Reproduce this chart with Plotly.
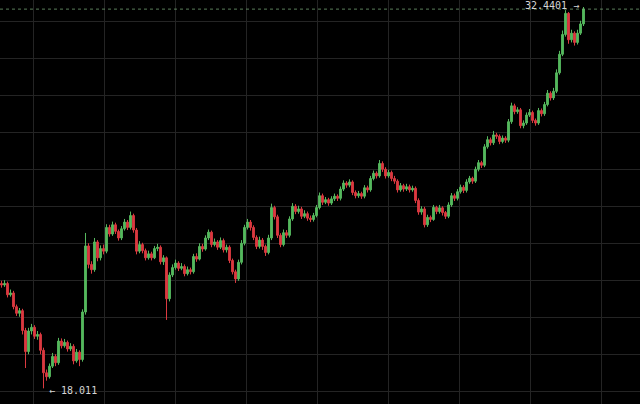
import plotly.graph_objects as go

first_open = 21.98
closes = [
    21.92, 21.98, 21.55, 21.62, 21.10, 20.85, 20.95, 20.20, 19.40, 20.18,
    20.32, 19.98, 20.05, 19.45, 18.60, 18.45, 18.85, 19.22, 18.98, 19.80,
    19.62, 19.75, 19.50, 19.60, 19.05, 19.38, 19.10, 20.90, 23.40, 22.70,
    22.50, 23.55, 22.95, 23.30, 23.20, 24.10, 23.85, 24.20, 23.95, 23.70,
    24.05, 24.30, 24.10, 24.55, 24.00, 23.20, 23.45, 23.22, 22.95, 23.10,
    22.95, 23.30, 23.35, 22.80, 22.95, 21.40, 22.30, 22.58, 22.75, 22.55,
    22.62, 22.35, 22.50, 22.42, 23.00, 22.90, 23.38, 23.28, 23.70, 23.92,
    23.45, 23.55, 23.35, 23.60, 23.25, 23.35, 22.85, 22.42, 22.15, 22.78,
    23.50, 24.10, 24.30, 24.10, 23.72, 23.38, 23.62, 23.38, 23.15, 23.70,
    24.85, 24.50, 23.80, 23.45, 23.90, 23.80, 24.42, 24.90, 24.70, 24.80,
    24.52, 24.62, 24.45, 24.40, 24.55, 24.85, 25.30, 25.05, 25.15, 25.02,
    25.18, 25.28, 25.20, 25.55, 25.78, 25.70, 25.82, 25.42, 25.30, 25.38,
    25.28, 25.60, 25.52, 25.95, 26.15, 26.05, 26.52, 26.30, 26.05, 26.18,
    25.95, 25.85, 25.52, 25.68, 25.55, 25.64, 25.52, 25.58, 25.12, 24.68,
    24.80, 24.20, 24.48, 24.40, 24.86, 24.70, 24.84, 24.66, 24.52, 24.95,
    25.30, 25.20, 25.45, 25.62, 25.50, 25.82, 25.96, 25.85, 26.30, 26.55,
    26.45, 27.15, 27.42, 27.30, 27.60, 27.55, 27.35, 27.48, 27.40, 28.10,
    28.70, 28.48, 28.55, 27.95, 28.05, 28.35, 28.45, 28.15, 28.05, 28.52,
    28.40, 28.75, 29.18, 29.00, 29.25, 29.95, 30.65, 31.40, 32.20, 31.20,
    31.45, 31.10, 31.45, 31.80, 32.36,
]
highs = [
    22.08, 22.10, 22.05, 21.75, 21.70, 21.18, 21.05, 21.02, 20.30, 20.30,
    20.45, 20.40, 20.18, 20.12, 19.55, 18.72, 18.95, 19.35, 19.30, 19.92,
    19.90, 19.88, 19.82, 19.72, 19.68, 19.50, 19.45, 21.00, 23.89, 23.50,
    22.82, 23.70, 23.62, 23.42, 23.45, 24.22, 24.20, 24.32, 24.28, 24.02,
    24.15, 24.42, 24.38, 24.70, 24.62, 24.08, 23.58, 23.52, 23.30, 23.22,
    23.18, 23.40, 23.48, 23.42, 23.05, 23.00, 22.40, 22.70, 22.88, 22.82,
    22.75, 22.70, 22.62, 22.58, 23.10, 23.12, 23.50, 23.48, 23.80, 24.02,
    23.98, 23.68, 23.62, 23.72, 23.68, 23.45, 23.42, 22.92, 22.50, 22.88,
    23.62, 24.20, 24.42, 24.38, 24.18, 23.80, 23.75, 23.70, 23.45, 23.82,
    25.00, 24.92, 24.58, 23.88, 24.02, 24.00, 24.52, 25.02, 24.98, 24.92,
    24.88, 24.75, 24.70, 24.55, 24.65, 24.95, 25.42, 25.38, 25.25, 25.22,
    25.28, 25.38, 25.35, 25.65, 25.88, 25.85, 25.92, 25.88, 25.50, 25.48,
    25.45, 25.70, 25.68, 26.05, 26.25, 26.22, 26.65, 26.60, 26.38, 26.28,
    26.25, 26.05, 25.92, 25.78, 25.75, 25.75, 25.72, 25.68, 25.65, 25.20,
    24.90, 24.88, 24.58, 24.55, 24.95, 24.92, 24.95, 24.90, 24.72, 25.05,
    25.40, 25.38, 25.55, 25.72, 25.70, 25.92, 26.05, 26.02, 26.40, 26.65,
    26.62, 27.25, 27.55, 27.50, 27.75, 27.68, 27.62, 27.58, 27.55, 28.20,
    28.82, 28.78, 28.65, 28.62, 28.15, 28.45, 28.58, 28.52, 28.22, 28.62,
    28.60, 28.85, 29.30, 29.25, 29.38, 30.08, 30.78, 31.55, 32.32, 32.25,
    31.58, 31.52, 31.58, 31.92, 32.4401,
]
lows = [
    21.82, 21.85, 21.45, 21.48, 21.00, 20.75, 20.72, 20.05, 18.78, 19.30,
    20.05, 19.88, 19.85, 19.30, 18.011, 18.30, 18.38, 18.78, 18.85, 18.90,
    19.52, 19.55, 19.40, 19.42, 18.92, 18.98, 18.85, 19.02, 20.80, 22.55,
    22.35, 22.42, 22.82, 22.85, 23.08, 23.12, 23.75, 23.78, 23.85, 23.60,
    23.62, 23.98, 24.00, 24.02, 23.90, 23.08, 23.12, 23.12, 22.85, 22.88,
    22.85, 22.90, 23.20, 22.70, 22.68, 20.60, 21.30, 22.22, 22.50, 22.45,
    22.48, 22.25, 22.28, 22.32, 22.35, 22.80, 22.85, 23.18, 23.22, 23.62,
    23.35, 23.38, 23.25, 23.28, 23.15, 23.15, 22.75, 22.32, 22.00, 22.08,
    22.70, 23.42, 24.02, 23.98, 23.62, 23.28, 23.30, 23.25, 23.02, 23.08,
    23.62, 24.40, 23.70, 23.35, 23.38, 23.70, 23.72, 24.35, 24.60, 24.62,
    24.42, 24.45, 24.35, 24.30, 24.32, 24.48, 24.78, 24.95, 24.98, 24.92,
    24.95, 25.10, 25.10, 25.12, 25.48, 25.60, 25.62, 25.32, 25.20, 25.22,
    25.18, 25.20, 25.42, 25.45, 25.88, 25.95, 25.98, 26.20, 25.95, 25.98,
    25.85, 25.75, 25.42, 25.45, 25.45, 25.48, 25.42, 25.45, 25.02, 24.58,
    24.58, 24.10, 24.12, 24.30, 24.35, 24.60, 24.62, 24.55, 24.42, 24.45,
    24.88, 25.10, 25.12, 25.38, 25.40, 25.42, 25.75, 25.75, 25.78, 26.22,
    26.35, 26.38, 27.08, 27.20, 27.22, 27.45, 27.25, 27.28, 27.30, 27.32,
    28.02, 28.38, 28.40, 27.85, 27.85, 27.98, 28.28, 28.05, 27.95, 27.98,
    28.30, 28.32, 28.68, 28.90, 28.92, 29.18, 29.88, 30.58, 31.32, 31.05,
    31.10, 30.98, 31.02, 31.38, 31.72,
]

opens = [first_open] + closes[:-1]
idx = list(range(len(closes)))

hi_i = max(idx, key=lambda i: highs[i])
lo_i = min(idx, key=lambda i: lows[i])

fig = go.Figure()
fig.add_trace(go.Candlestick(
    x=idx, open=opens, high=highs, low=lows, close=closes,
    increasing=dict(line=dict(color="#56b95e", width=1), fillcolor="#56b95e"),
    decreasing=dict(line=dict(color="#dc3a40", width=1), fillcolor="#dc3a40"),
    whiskerwidth=0,
    showlegend=False,
    hoverinfo="skip",
))

fig.add_shape(type="line", xref="paper", x0=0, x1=1, yref="y",
              y0=closes[-1], y1=closes[-1],
              line=dict(color="rgba(120,170,120,0.75)", width=1, dash="3px,3px"))

mono = dict(family="DejaVu Sans Mono", size=10, color="#d6d6d6")
fig.add_annotation(x=hi_i, y=highs[hi_i], text=f"{highs[hi_i]:.4f} →",
                   showarrow=False, xanchor="right", yanchor="middle",
                   xshift=-3, yshift=2, font=mono)
fig.add_annotation(x=lo_i, y=lows[lo_i], text=f"← {lows[lo_i]:.3f}",
                   showarrow=False, xanchor="left", yanchor="middle",
                   xshift=3, yshift=-2, font=mono)

fig.update_layout(
    width=640, height=404,
    margin=dict(l=0, r=0, t=0, b=0),
    paper_bgcolor="#000000", plot_bgcolor="#000000",
    boxgap=0.15,
    hovermode=False,
    xaxis=dict(range=[-0.5, 212.83], showticklabels=False, showgrid=True,
               gridcolor="#242424", gridwidth=1, tick0=10.67, dtick=23.667,
               zeroline=False, showline=False, rangeslider=dict(visible=False),
               fixedrange=True),
    yaxis=dict(range=[17.418, 32.705], showticklabels=False, showgrid=True,
               gridcolor="#242424", gridwidth=1, tick0=31.91, dtick=1.4,
               zeroline=False, showline=False, fixedrange=True),
)

fig.write_html("out.html", config={"displayModeBar": False, "staticPlot": True},
               post_script="document.body.style.margin='0';document.body.style.background='#000';")
